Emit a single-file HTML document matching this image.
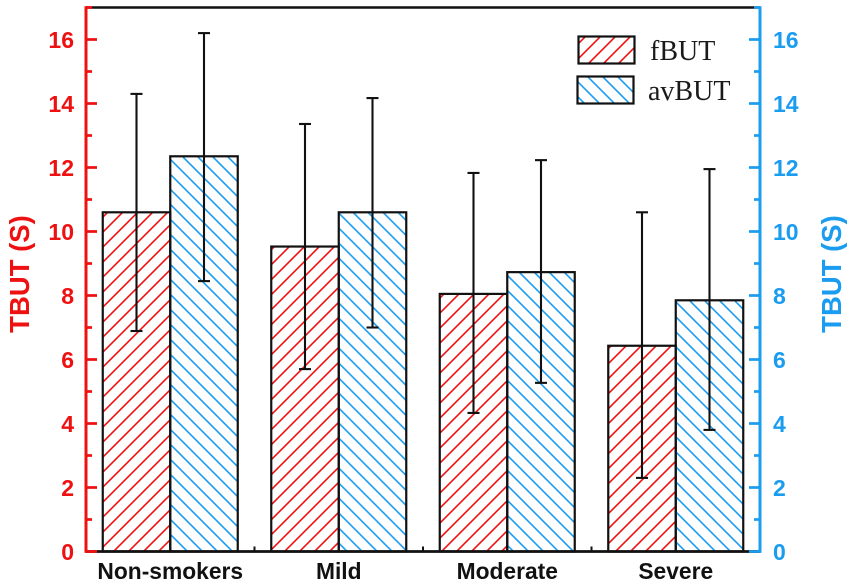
<!DOCTYPE html>
<html lang="en">
<head>
<meta charset="utf-8">
<title>TBUT by smoking group</title>
<style>
html,body{margin:0;padding:0;background:#fff;width:851px;height:588px;overflow:hidden}
svg{display:block}
text{font-family:"Liberation Sans",sans-serif;font-weight:bold}
.legend-text{font-family:"Liberation Serif",serif;font-weight:normal;font-size:28px;fill:#1a1a1a}
</style>
</head>
<body>
<svg id="chart" xmlns="http://www.w3.org/2000/svg" width="851" height="588" viewBox="0 0 851 588">
  <defs id="defs"></defs>
  <g id="bars"></g>
  <g id="errors"></g>
  <g id="axes"></g>
  <text x="0" y="0" transform="translate(29,274) rotate(-90)" text-anchor="middle" font-size="27.5" fill="#ee1111">TBUT (S)</text>
  <text x="0" y="0" transform="translate(841,274) rotate(-90)" text-anchor="middle" font-size="27.5" fill="#1a9cf0">TBUT (S)</text>
  <g>
    <g>
      <rect x="578.5" y="36.5" width="56" height="27" fill="url(#legend-red)" stroke="#111" stroke-width="2.2"/>
      <text class="legend-text" x="650" y="60">fBUT</text>
    </g>
    <g>
      <rect x="577.5" y="76.5" width="56" height="27" fill="url(#legend-blue)" stroke="#111" stroke-width="2.2"/>
      <text class="legend-text" x="648" y="100">avBUT</text>
    </g>
  </g>
</svg>
<script>
const categories = ["Non-smokers", "Mild", "Moderate", "Severe"];
const fbutValues = [10.6, 9.53, 8.05, 6.43];
const fbutUpper = [14.3, 13.36, 11.83, 10.6];
const fbutLower = [6.89, 5.7, 4.33, 2.3];
const avbutValues = [12.35, 10.6, 8.73, 7.85];
const avbutUpper = [16.2, 14.17, 12.23, 11.95];
const avbutLower = [8.45, 7.0, 5.27, 3.8];
const majorTicks = [0, 2, 4, 6, 8, 10, 12, 14, 16];
const minorTicks = [1, 3, 5, 7, 9, 11, 13, 15, 17];

const RED = '#ee1111';
const BLUE = '#1a9cf0';
const INK = '#111111';
const NS = 'http://www.w3.org/2000/svg';
const plotLeft = 86, plotRight = 760, y0 = 551.5, pxPerUnit = 32, yMax = 17;
const bandWidth = (plotRight - plotLeft) / categories.length;
const barWidth = 67.5;

function yScale(v) { return y0 - v * pxPerUnit; }
function xCenter(i) { return plotLeft + bandWidth * (i + 0.5); }

function make(tag, attrs, parent) {
  const el = document.createElementNS(NS, tag);
  for (const k in attrs) el.setAttribute(k, attrs[k]);
  parent.appendChild(el);
  return el;
}

const defs = document.getElementById('defs');
function hatch(id, color, rising, ox, oy) {
  const p = make('pattern', { id: id, width: 15, height: 15, patternUnits: 'userSpaceOnUse', patternTransform: 'translate(' + ox + ',' + oy + ')' }, defs);
  const d = rising ? 'M-3,3 L3,-3 M0,15 L15,0 M12,18 L18,12' : 'M-3,12 L3,18 M0,0 L15,15 M12,-3 L18,3';
  make('path', { d: d, stroke: color, 'stroke-width': 1.6, fill: 'none' }, p);
}
// Hatch phase for each bar, purely decorative.
function redPhase(i) { return [5, 11, 3, 12][i]; }
function bluePhase(i) { return [11, 5.7, 7, 14][i]; }
categories.forEach(function (name, i) {
  hatch('hatch-red-' + i, RED, true, redPhase(i), 0);
  hatch('hatch-blue-' + i, BLUE, false, bluePhase(i), 0);
});
hatch('legend-red', RED, true, 3, 4);
hatch('legend-blue', BLUE, false, 3, 2);

const barsG = document.getElementById('bars');
const errG = document.getElementById('errors');

function drawBar(i, left, value, fill, series) {
  const top = yScale(value);
  const r = make('rect', { x: left, y: top, width: barWidth, height: y0 - top, fill: fill, stroke: INK, 'stroke-width': 2.2 }, barsG);
  
  
  r.setAttribute('aria-label', series + ' ' + categories[i]);
}
function drawError(cx, hi, lo) {
  const g = make('g', {}, errG);
  
  
  const yh = yScale(hi), yl = yScale(lo);
  make('line', { x1: cx, x2: cx, y1: yh, y2: yl, stroke: INK, 'stroke-width': 2.1 }, g);
  make('line', { x1: cx - 6, x2: cx + 6, y1: yh, y2: yh, stroke: INK, 'stroke-width': 2.1 }, g);
  make('line', { x1: cx - 6, x2: cx + 6, y1: yl, y2: yl, stroke: INK, 'stroke-width': 2.1 }, g);
}

categories.forEach(function (name, i) {
  const c = xCenter(i);
  drawBar(i, c - barWidth, fbutValues[i], 'url(#hatch-red-' + i + ')', 'fBUT');
  drawBar(i, c, avbutValues[i], 'url(#hatch-blue-' + i + ')', 'avBUT');
  drawError(c - barWidth / 2, fbutUpper[i], fbutLower[i]);
  drawError(c + barWidth / 2, avbutUpper[i], avbutLower[i]);
});

const axes = document.getElementById('axes');
// top frame and bottom axis
const topLine = make('line', { x1: plotLeft, x2: plotRight, y1: yScale(yMax), y2: yScale(yMax), stroke: INK, 'stroke-width': 2.6 }, axes);


const xAxis = make('line', { x1: plotLeft, x2: plotRight, y1: y0, y2: y0, stroke: INK, 'stroke-width': 2.8 }, axes);



for (let i = 1; i < categories.length; i++) {
  const x = plotLeft + bandWidth * i;
  const t = make('line', { x1: x, x2: x, y1: y0, y2: y0 - 5, stroke: INK, 'stroke-width': 2 }, axes);
  
  
}
categories.forEach(function (name, i) {
  const t = make('text', { x: xCenter(i), y: 579, 'text-anchor': 'middle', 'font-size': 22.8, fill: INK }, axes);
  t.textContent = name;
  
  
});

function drawYAxis(x, dir, color, labelX, anchor, side) {
  const g = make('g', {}, axes);
  
  
  make('line', { x1: x, x2: x, y1: yScale(yMax) - 1.3, y2: y0 + 1.4, stroke: color, 'stroke-width': 3 }, g);
  majorTicks.forEach(function (v) {
    make('line', { x1: x, x2: x + dir * 11, y1: yScale(v), y2: yScale(v), stroke: color, 'stroke-width': 2.7 }, g);
    const t = make('text', { x: labelX, y: yScale(v) + 8.5, 'text-anchor': anchor, 'font-size': 23, fill: color }, g);
    t.textContent = String(v);
    
    
  });
  minorTicks.forEach(function (v) {
    make('line', { x1: x, x2: x + dir * 6, y1: yScale(v), y2: yScale(v), stroke: color, 'stroke-width': 2.7 }, g);
  });
}
drawYAxis(plotLeft, 1, RED, 74, 'end', 'left');
drawYAxis(plotRight, -1, BLUE, 773, 'start', 'right');
</script>
</body>
</html>
